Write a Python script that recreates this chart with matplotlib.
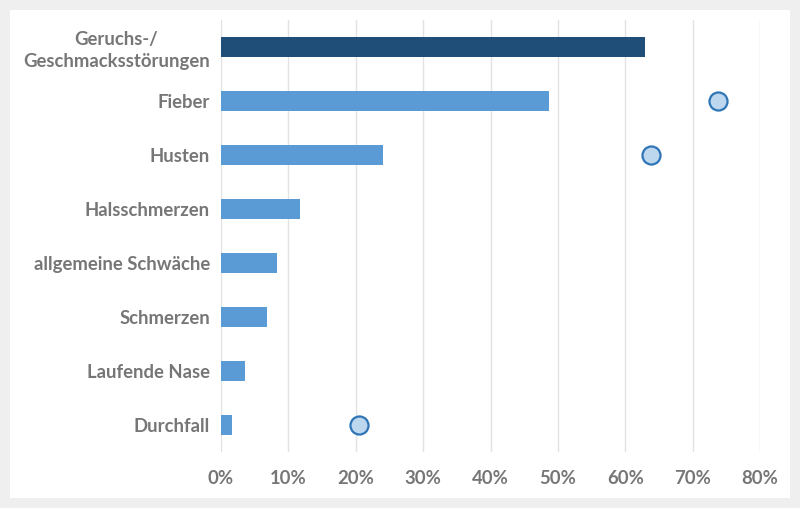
import matplotlib.pyplot as plt
from matplotlib.patches import Rectangle

categories = ['Geruchs-/\nGeschmacksstörungen', 'Fieber', 'Husten', 'Halsschmerzen',
              'allgemeine Schwäche', 'Schmerzen', 'Laufende Nase', 'Durchfall']
bar_values = [63.0, 48.7, 24.0, 11.7, 8.3, 6.8, 3.6, 1.6]
point_cats = ['Fieber', 'Husten', 'Durchfall']
point_values = [73.7, 63.8, 20.5]
xticks = [0, 10, 20, 30, 40, 50, 60, 70, 80]

plt.rcParams['font.family'] = ['Lato', 'DejaVu Sans']
gray = '#767676'

W, H = 800, 508
fig = plt.figure(figsize=(8, 5.08), dpi=100, facecolor='#efefef')
fig.patches.append(Rectangle((10 / W, 10 / H), 780 / W, 488 / H, transform=fig.transFigure,
                             facecolor='white', edgecolor='none', zorder=-5))

ax = fig.add_axes([221 / W, 1 - 452 / H, 539 / W, 432 / H])
ax.set_zorder(2)
ax.set_facecolor('none')

ypos = list(range(len(categories)))
colors = ['#1f4e79'] + ['#5b9bd5'] * (len(categories) - 1)
ax.barh(ypos, bar_values, height=0.37, color=colors, zorder=2)

py = [categories.index(c) for c in point_cats]
ax.plot(point_values, py, 'o', markersize=13, markerfacecolor='#bdd7ee',
        markeredgecolor='#2e75b6', markeredgewidth=1.6, linestyle='none', zorder=3)

ax.set_ylim(len(categories) - 0.5, -0.5)
ax.set_xlim(0, 80)
ax.set_yticks(ypos)
ax.set_yticklabels(categories, fontsize=13.3, fontweight='bold', color=gray,
                   multialignment='center', linespacing=1.3)
ax.set_xticks(xticks)
ax.set_xticklabels([f'{t}%' for t in xticks], fontsize=13.3, fontweight='bold', color=gray)
ax.tick_params(length=0, pad=8)
ax.tick_params(axis='x', pad=13)
ax.grid(axis='x', color='#e2e2e2', linewidth=1.0, zorder=0)
ax.set_axisbelow(True)
for s in ax.spines.values():
    s.set_visible(False)

fig.savefig('out.png', dpi=100, facecolor=fig.get_facecolor())
